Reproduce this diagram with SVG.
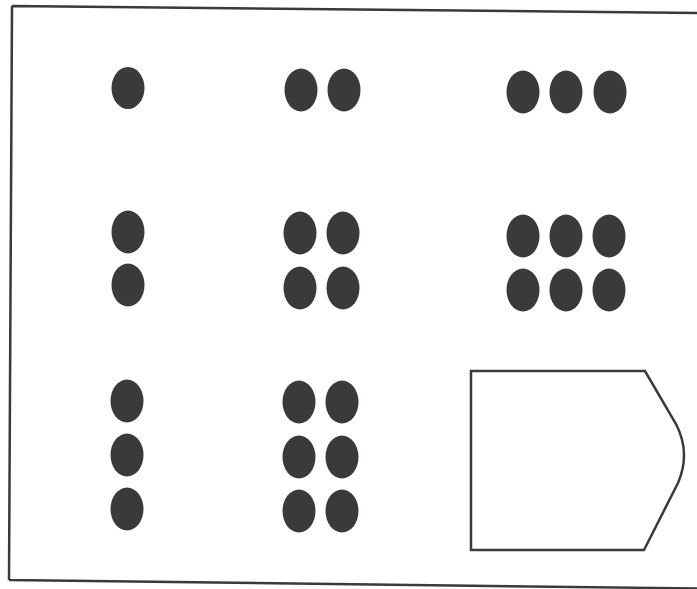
<svg xmlns="http://www.w3.org/2000/svg" width="697" height="589" viewBox="0 0 697 589">
<style>
.frame{fill:none;stroke:#3a3a3a;stroke-width:2.5}
.dot{fill:#3b3939}
.shape{fill:#fff;stroke:#3a3a3a;stroke-width:2.5;stroke-linejoin:miter}
</style>
<rect width="697" height="589" fill="#fff"/>
<g id="frame">
<path class="frame" d="M12,6 L700,13 M9,580 L700,588.5 M12,6 L9,580"/>
</g>
<g id="n1"><ellipse class="dot" cx="128" cy="88" rx="16.5" ry="21"/></g>
<g id="n2">
<ellipse class="dot" cx="301" cy="90" rx="16.5" ry="21.5"/>
<ellipse class="dot" cx="344" cy="90" rx="16.5" ry="21.5"/>
</g>
<g id="n3">
<ellipse class="dot" cx="523" cy="92" rx="16.5" ry="21.5"/>
<ellipse class="dot" cx="566" cy="92" rx="16.5" ry="21.5"/>
<ellipse class="dot" cx="610" cy="92" rx="16.5" ry="21.5"/>
</g>
<g id="n4">
<ellipse class="dot" cx="128" cy="232" rx="16.5" ry="21.5"/>
<ellipse class="dot" cx="128" cy="285" rx="16.5" ry="21.5"/>
</g>
<g id="n5">
<ellipse class="dot" cx="300" cy="233" rx="16.5" ry="21.5"/>
<ellipse class="dot" cx="343" cy="233" rx="16.5" ry="21.5"/>
<ellipse class="dot" cx="300" cy="288" rx="16.5" ry="21.5"/>
<ellipse class="dot" cx="343" cy="288" rx="16.5" ry="21.5"/>
</g>
<g id="n6">
<ellipse class="dot" cx="523" cy="236" rx="16.5" ry="21.5"/>
<ellipse class="dot" cx="566" cy="236" rx="16.5" ry="21.5"/>
<ellipse class="dot" cx="609" cy="236" rx="16.5" ry="21.5"/>
<ellipse class="dot" cx="523" cy="290" rx="16.5" ry="21.5"/>
<ellipse class="dot" cx="566" cy="290" rx="16.5" ry="21.5"/>
<ellipse class="dot" cx="609" cy="290" rx="16.5" ry="21.5"/>
</g>
<g id="n7">
<ellipse class="dot" cx="127" cy="401" rx="16.5" ry="21.5"/>
<ellipse class="dot" cx="127" cy="455" rx="16.5" ry="21.5"/>
<ellipse class="dot" cx="127" cy="509" rx="16.5" ry="21.5"/>
</g>
<g id="n8">
<ellipse class="dot" cx="299" cy="402" rx="16.5" ry="21.5"/>
<ellipse class="dot" cx="342" cy="402" rx="16.5" ry="21.5"/>
<ellipse class="dot" cx="299" cy="457" rx="16.5" ry="21.5"/>
<ellipse class="dot" cx="342" cy="457" rx="16.5" ry="21.5"/>
<ellipse class="dot" cx="299" cy="511" rx="16.5" ry="21.5"/>
<ellipse class="dot" cx="342" cy="511" rx="16.5" ry="21.5"/>
</g>
<g id="n9">
<path class="shape" d="M471,371 H645 L676,424 Q691,453 678,483 L644,550 H471 Z"/>
</g>
<g id="connectors"></g>
</svg>
